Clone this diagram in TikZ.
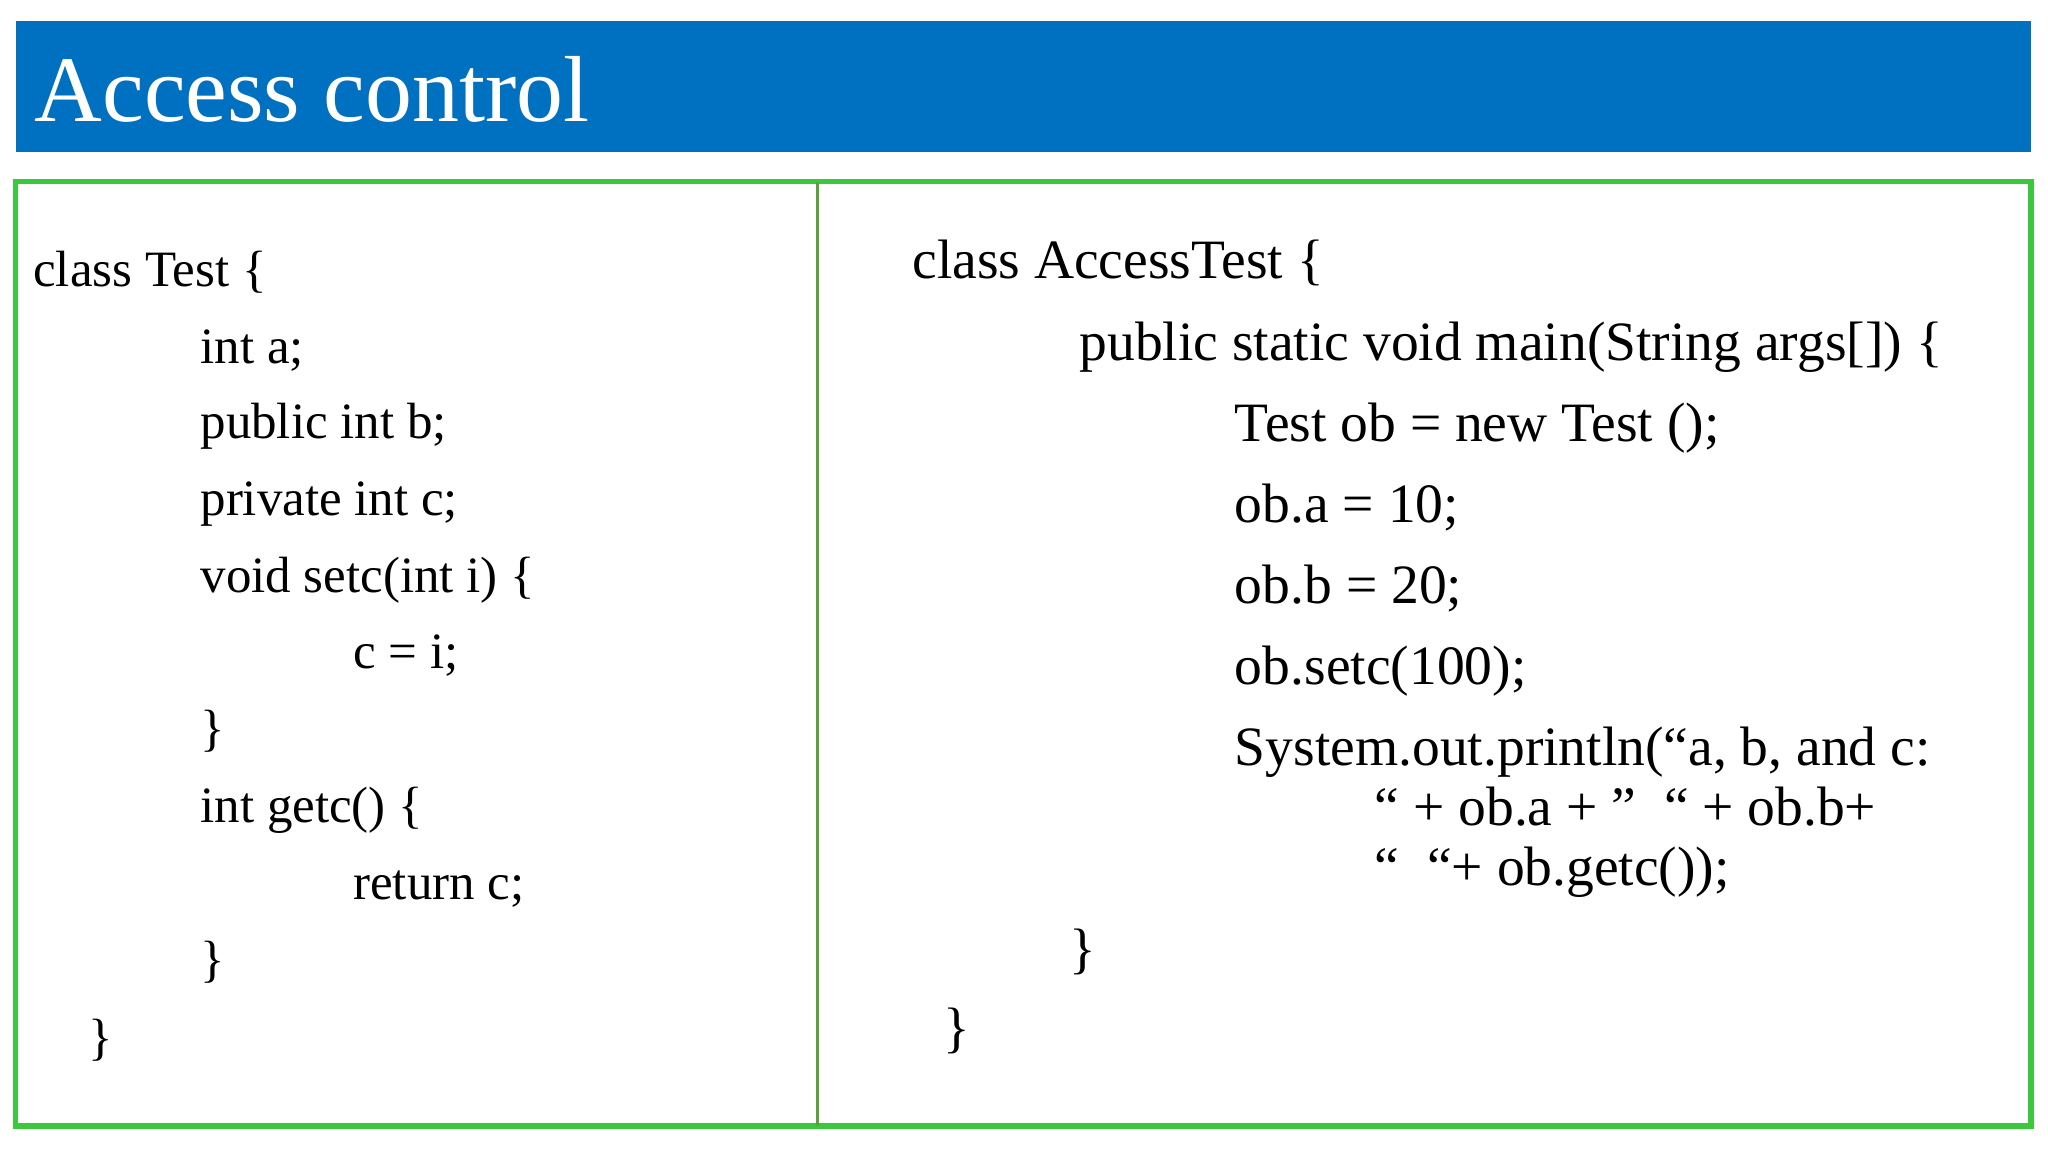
\documentclass[tikz,border=0pt]{standalone}
\usepackage{fontspec}
\setmainfont{Liberation Serif}
\usetikzlibrary{positioning}
\definecolor{hdrblue}{RGB}{0,112,192}
\definecolor{boxgreen}{RGB}{60,200,60}
\definecolor{divgreen}{RGB}{90,160,60}
\tikzset{
	codeL/.style={anchor=base west, inner sep=0pt, font=\fontsize{14.5}{17}\selectfont},
	codeR/.style={anchor=base west, inner sep=0pt, font=\fontsize{15.8}{19}\selectfont}
}

\begin{document}
\begin{tikzpicture}[x=0.01306cm, y=-0.01306cm]
	\useasboundingbox (0, 0) rectangle (1568, 882);
	\fill [white] (0, 0) rectangle (1568, 882);
	% header
	\fill [hdrblue] (12, 16) rectangle (1555, 116);
	\node [anchor=base west, inner sep=0pt, text=white, font=\fontsize{26.7}{30}\selectfont] (title) at (26, 93) {Access control};
	% frame
	\draw [boxgreen, line width=1.6pt] (12, 139) rectangle (1555, 862);
	\coordinate (D1) at (626, 139);
	\coordinate (D2) at (626, 862);
	\draw [divgreen, line width=1pt] (D1) -- (D2);
	% left column
	\node [codeL] (L1) at (25, 219) {class Test \{};
	\node [codeL] (L2) at (153, 278) {int a;};
	\node [codeL] (L3) at (153, 336) {public int b;};
	\node [codeL] (L4) at (153, 395) {private int c;};
	\node [codeL] (L5) at (153, 454) {void setc(int i) \{};
	\node [codeL] (L6) at (270, 512) {c = i;};
	\node [codeL] (L7) at (153, 571) {\}};
	\node [codeL] (L8) at (153, 630) {int getc() \{};
	\node [codeL] (L9) at (270, 689) {return c;};
	\node [codeL] (L10) at (153, 748) {\}};
	\node [codeL] (L11) at (67, 807) {\}};
	% right column
	\node [codeR] (R1) at (698, 213) {class AccessTest \{};
	\node [codeR] (R2) at (826, 276) {public static void main(String args[]) \{};
	\node [codeR] (R3) at (945, 338) {Test ob = new Test ();};
	\node [codeR] (R4) at (945, 400) {ob.a = 10;};
	\node [codeR] (R5) at (945, 462) {ob.b = 20;};
	\node [codeR] (R6) at (945, 524) {ob.setc(100);};
	\node [codeR] (R7) at (945, 586) {System.out.println(“a, b, and c:};
	\node [codeR] (R8) at (1052, 632) {“ + ob.a + ”\ \ “ + ob.b+};
	\node [codeR] (R9) at (1052, 678) {“\ \ “+ ob.getc());};
	\node [codeR] (R10) at (818, 741) {\}};
	\node [codeR] (R11) at (722, 801) {\}};
\end{tikzpicture}
\end{document}
